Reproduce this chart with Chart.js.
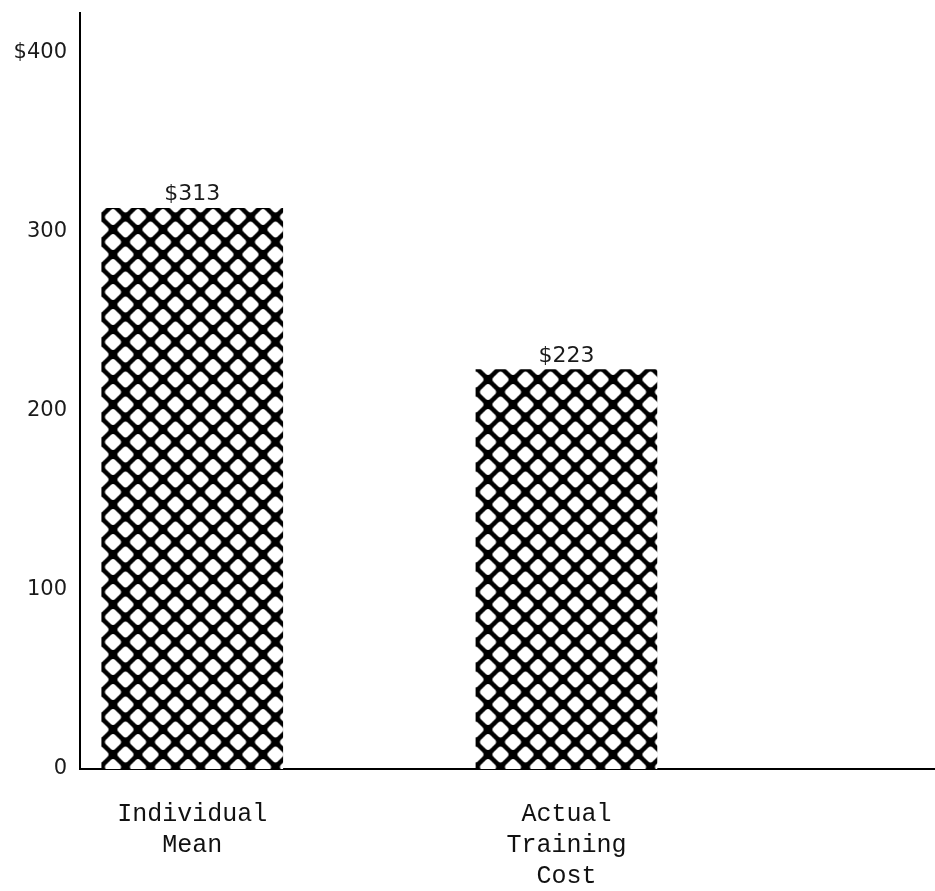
<html lang="en">
  <head>
    <meta charset="UTF-8" />
    <title>Training Cost</title>
    <script src="https://cdn.jsdelivr.net/npm/chart.js"></script>
    <style>
      body { margin: 0; background: #fff; }
    </style>
  </head>
  <body>
    <canvas id="cost-chart" width="935" height="891"></canvas>
  </body>
  <script>
    // data
    const categories = [["Individual", "Mean"], ["Actual", "Training", "Cost"]];
    const xPositions = [1, 2];
    const costs = [313, 223];
    const barLabels = ["$313", "$223"];
    const yTicks = [0, 100, 200, 300, 400];
    const yTickLabels = ["0", "100", "200", "300", "$400"];

    const canvas = document.getElementById("cost-chart");
    const ctx = canvas.getContext("2d");

    // diamond cross-hatch like the original screen
    function makeHatch() {
      const c = document.createElement("canvas");
      c.width = 25;
      c.height = 25;
      const g = c.getContext("2d");
      g.fillStyle = "#000";
      g.fillRect(0, 0, 25, 25);
      g.fillStyle = "#fff";
      [[12.5, 0], [12.5, 25], [0, 12.5], [25, 12.5]].forEach(([x, y]) => {
        g.save();
        g.translate(x, y);
        g.rotate(Math.PI / 4);
        g.beginPath();
        if (g.roundRect) g.roundRect(-6.6, -6.6, 13.2, 13.2, 3.5);
        else g.rect(-6.6, -6.6, 13.2, 13.2);
        g.fill();
        g.restore();
      });
      const p = ctx.createPattern(c, "repeat");
      if (p.setTransform) p.setTransform(new DOMMatrix().translate(0.5, 17));
      return p;
    }

    const barValueLabels = {
      id: "barValueLabels",
      afterDatasetsDraw(chart) {
        const c = chart.ctx;
        const meta = chart.getDatasetMeta(0);
        c.save();
        c.font = "22px 'DejaVu Sans'";
        c.fillStyle = "#1a1a1a";
        c.textAlign = "center";
        c.textBaseline = "alphabetic";
        meta.data.forEach((bar, i) => {
          c.fillText(barLabels[i], bar.x, bar.y - 8);
        });
        c.restore();
      },
    };

    new Chart(canvas, {
      type: "bar",
      data: {
        datasets: [
          {
            data: xPositions.map((x, i) => ({ x: x, y: costs[i] })),
            backgroundColor: makeHatch(),
            borderWidth: 0,
            barThickness: 181,
          },
        ],
      },
      plugins: [barValueLabels],
      options: {
        responsive: false,
        animation: false,
        layout: { padding: { top: 13, left: 0, right: 0, bottom: 0 } },
        plugins: {
          legend: { display: false },
          tooltip: { enabled: false },
        },
        scales: {
          x: {
            type: "linear",
            min: 0.7,
            max: 2.985,
            offset: false,
            grid: { display: false, drawTicks: false, offset: false },
            border: { display: true, color: "#000", width: 2 },
            afterBuildTicks: (scale) => {
              scale.ticks = xPositions.map((v) => ({ value: v }));
            },
            afterFit: (scale) => {
              scale.height = 122;
              scale.paddingLeft = 0;
              scale.paddingRight = 0;
            },
            ticks: {
              autoSkip: false,
              maxRotation: 0,
              padding: 30,
              color: "#111",
              font: { family: "'Liberation Mono'", size: 25, lineHeight: 1.24 },
              callback: (value, index) => categories[index],
            },
          },
          y: {
            min: 0,
            max: 422,
            grid: { display: false, drawTicks: false },
            border: { display: true, color: "#000", width: 2 },
            afterBuildTicks: (scale) => {
              scale.ticks = yTicks.map((v) => ({ value: v }));
            },
            afterFit: (scale) => {
              scale.width = 80;
              scale.paddingTop = 0;
              scale.paddingBottom = 0;
            },
            ticks: {
              padding: 13,
              color: "#1a1a1a",
              font: { family: "'DejaVu Sans'", size: 21 },
              callback: (value, index) => yTickLabels[index],
            },
          },
        },
      },
    });
  </script>
</html>
